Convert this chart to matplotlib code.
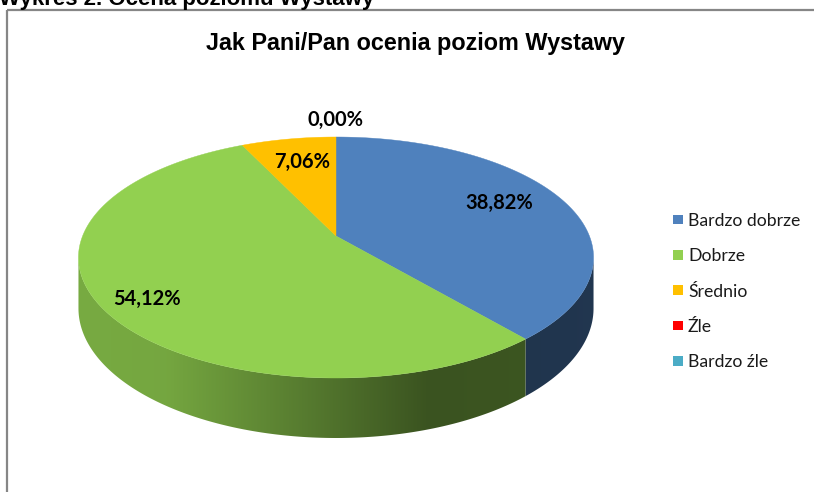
import numpy as np
import matplotlib.pyplot as plt
from matplotlib.patches import Polygon, Rectangle
from matplotlib.colors import to_rgb

# data
categories = ['Bardzo dobrze', 'Dobrze', 'Średnio', 'Źle', 'Bardzo źle']
shares = [38.82, 54.12, 7.06, 0.00, 0.00]
colors = ['#4F81BD', '#92D050', '#FFC000', '#FF0000', '#4BACC6']
chart_title = 'Jak Pani/Pan ocenia poziom Wystawy'
caption = 'Wykres 2. Ocena poziomu Wystawy'

# label placement (radius in disk units, angle tweak in degrees)
label_r = [0.747, 0.836, 0.741, 1.225, 1.225]
label_dth = [-4.2, -2.4, 1.1, 0.0, 0.0]

# 3d pie geometry in pixel units (perspective view of a flat disk)
CX, CY = 336.0, 236.0
AX_, BY_ = 253.4, 74.56
PERSP = 0.1784
DEPTH = 49.3
SHADE_T = [0.0, 0.17, 0.455, 0.68, 0.86, 1.0]
SHADE_V = [0.82, 0.80, 0.58, 0.40, 0.41, 0.42]


def project(r, theta):
    t = np.radians(theta)
    u = r * np.sin(t)
    v = r * np.cos(t)
    den = 1 + PERSP * v
    return CX + AX_ * u / den, (CY - BY_ * v) / den, den


fig = plt.figure(figsize=(8.14, 4.92), dpi=100)
ax = fig.add_axes([0, 0, 1, 1])

# pie extents for the side gradient
th_all = np.linspace(0, 360, 721)
xs_all, ys_all, _ = project(1.0, th_all)
x_left, x_right = xs_all.min(), xs_all.max()
front_a = np.degrees(np.arccos(-PERSP))          # right silhouette
front_b = 360 - front_a                           # left silhouette

total = sum(shares)
start = 0.0
spans = []
for val in shares:
    ang = val / total * 360
    spans.append((start, start + ang))
    start += ang

grad = np.linspace(0, 1, 400)
shade = np.interp(grad, SHADE_T, SHADE_V)

for (a, b), col in zip(spans, colors):
    if b - a <= 0:
        continue
    # side wall (only the front part is visible)
    sa, sb = max(a, front_a), min(b, front_b)
    if sb > sa:
        th = np.linspace(sa, sb, 200)
        xt, yt, den = project(1.0, th)
        yb = yt + DEPTH / den
        pts = np.column_stack([np.r_[xt, xt[::-1]], np.r_[yt, yb[::-1]]])
        clip = Polygon(pts, closed=True, facecolor='none', edgecolor='none')
        ax.add_patch(clip)
        img = np.array(to_rgb(col))[None, None, :] * shade[None, :, None]
        im = ax.imshow(img, extent=(x_left, x_right, 470, 200), aspect='auto',
                       interpolation='bilinear', zorder=1)
        im.set_clip_path(clip)
    # top face
    th = np.linspace(a, b, max(int((b - a) * 2), 4))
    xt, yt, _ = project(1.0, th)
    pts = np.column_stack([np.r_[CX, xt], np.r_[CY, yt]])
    ax.add_patch(Polygon(pts, closed=True, facecolor=col, edgecolor=col,
                         lw=0.3, zorder=2))

# data labels
seen = set()
for (a, b), val, r, dth in zip(spans, shares, label_r, label_dth):
    txt = f'{val:.2f}%'.replace('.', ',')
    lx, ly, _ = project(r, (a + b) / 2 + dth)
    key = (round(lx), round(ly))
    if key in seen:
        continue
    seen.add(key)
    ax.text(lx, ly + 7.2, txt, ha='center', va='baseline', fontsize=14.5,
            fontweight='bold', family=['Lato', 'DejaVu Sans'], color='black',
            zorder=5)

# legend
for i, (name, col) in enumerate(zip(categories, colors)):
    yc = 219.5 + i * 35.3
    ax.add_patch(Rectangle((673, yc - 4.8), 10, 9.6, facecolor=col,
                           edgecolor='none', zorder=3))
    ax.text(688, yc + 6.5, name, ha='left', va='baseline', fontsize=12.7,
            family=['Lato', 'DejaVu Sans'], color='#1a1a1a')

# titles and chart frame
ax.text(415, 50, chart_title, ha='center', va='baseline', fontsize=16.8,
        fontweight='bold', family=['Liberation Sans', 'DejaVu Sans'])
ax.text(-1, 5.5, caption, ha='left', va='baseline', fontsize=16,
        fontweight='bold', family=['Liberation Sans', 'DejaVu Sans'])
ax.add_patch(Rectangle((7, 10), 900, 600, fill=False, edgecolor='#868686',
                       lw=1.6, zorder=0))

ax.set_xlim(0, 814)
ax.set_ylim(492, 0)
ax.set_aspect('auto')
ax.axis('off')

fig.savefig('out.png', dpi=100)
